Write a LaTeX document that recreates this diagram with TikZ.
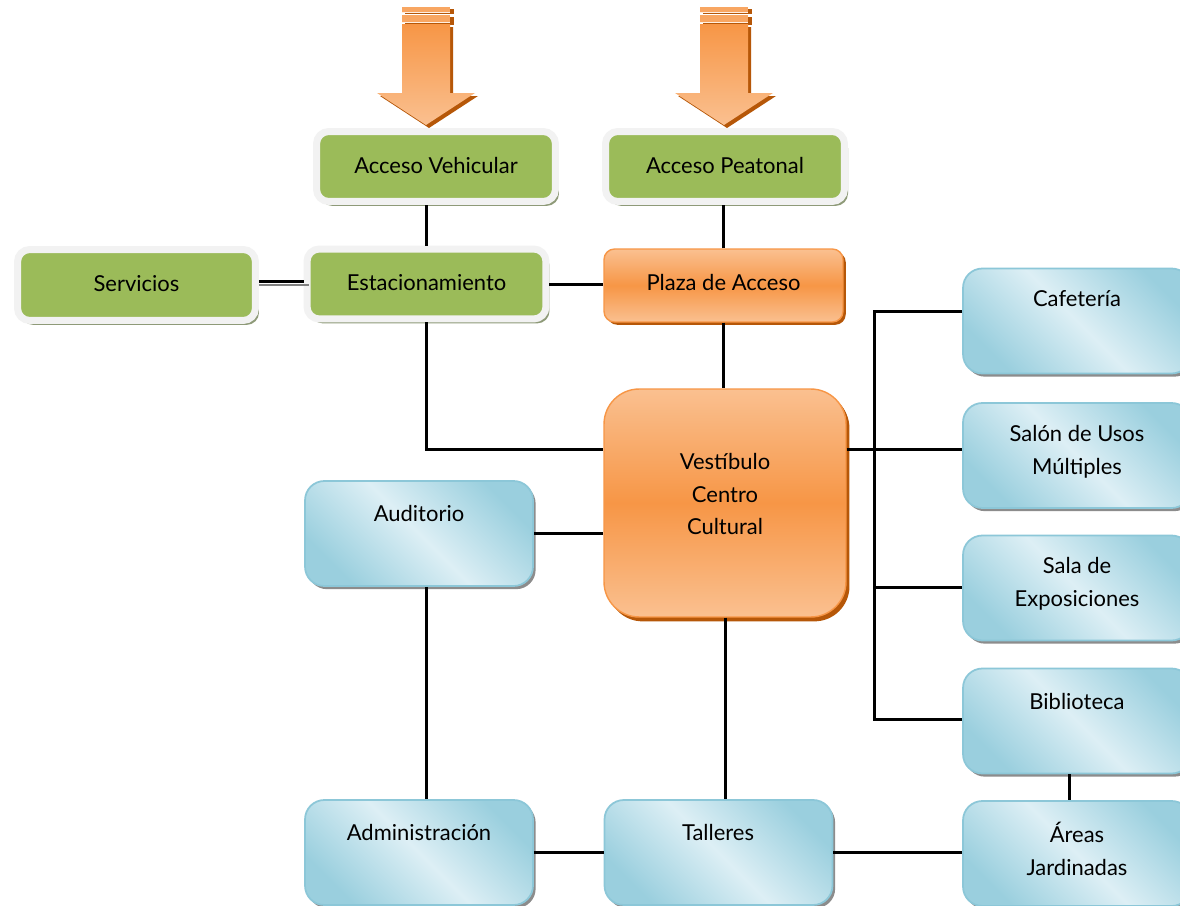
\documentclass[tikz,border=0pt]{standalone}
\usepackage{fontspec}
\setmainfont{Lato}
\usetikzlibrary{shadows,calc}
\definecolor{grn}{HTML}{9BBB59}
\definecolor{grnbd}{HTML}{F2F2F2}
\definecolor{grnsh}{HTML}{8E9A78}
\definecolor{orl}{HTML}{FAC090}
\definecolor{orm}{HTML}{F79646}
\definecolor{ord}{HTML}{B65708}
\definecolor{bll}{HTML}{DDEFF5}
\definecolor{blm}{HTML}{9ACFDE}
\definecolor{blbd}{HTML}{8CC7D8}
\definecolor{shgray}{HTML}{8C8C8C}
\newcommand\liftup[1]{\raisebox{1.8pt}{#1}}
\begin{document}
\begin{tikzpicture}[x=0.02cm,y=-0.02cm,
  every node/.style={font=\fontsize{12.5}{18.7}\selectfont},
  greenbox/.style={draw=grnbd, line width=0.14cm, fill=grn, rounded corners=7pt,
    minimum width=4.78cm, minimum height=1.4cm,
    drop shadow={shadow xshift=2pt, shadow yshift=-2.5pt, fill=grnsh, opacity=1}},
  orbox/.style={draw=orm, line width=0.8pt, top color=orl, bottom color=orl, middle color=orm,
    rounded corners=6pt,
    drop shadow={shadow xshift=1.6pt, shadow yshift=-1.6pt, fill=ord, opacity=1}},
  bluebox/.style={draw=blbd, line width=1pt, top color=blm, bottom color=blm, middle color=bll,
    shading angle=-45, rounded corners=11pt, minimum width=4.56cm, minimum height=2.1cm,
    drop shadow={shadow xshift=1.5pt, shadow yshift=-1.8pt, fill=shgray, opacity=1}},
  txt/.style={align=center, inner sep=0pt},
  conn/.style={line width=0.06cm, black},
  downarrow/.pic={
    \fill[ord] (-21,27) -- (27,27) -- (27,96) -- (52,96) -- (3,128) -- (-46,96) -- (-21,96) -- cycle;
    \fill[ord] (-21,9) rectangle (28,14);
    \fill[ord] (-21,17) rectangle (28,25);
    \shade[top color=orm, bottom color=orl] (-24,24) -- (24,24) -- (24,93) -- (49,93) -- (0,125) -- (-49,93) -- (-24,93) -- cycle;
    \fill[orm!85!white] (-24,7) rectangle (24,12);
    \fill[orm!85!white] (-24,15) rectangle (24,22);
    \draw[white!85!orm, line width=0.6pt] (-24,12.5) -- (24,12.5);
    \draw[white!85!orm, line width=0.6pt] (-24,22.5) -- (24,22.5);
  }]
\useasboundingbox (0,0) rectangle (1180,906);
\fill[white] (0,0) rectangle (1180,906);

% arrows
\pic at (426,0) {downarrow};
\pic at (724,0) {downarrow};

% green boxes
\node[greenbox] (av) at (436,166.5) {\liftup{Acceso Vehicular}};
\node[greenbox] (ap) at (725,166.5) {\liftup{Acceso Peatonal}};
\node[greenbox, minimum width=4.76cm, minimum height=1.42cm] (serv) at (136.5,285) {\liftup{Servicios}};
\node[greenbox] (est) at (426.5,284) {\liftup{Estacionamiento}};

% orange boxes
\node[orbox, minimum width=4.78cm, minimum height=1.46cm] (plaza) at (723.5,285.5) {\raisebox{3pt}{Plaza de Acceso}};
\node[orbox, rounded corners=20pt, minimum width=4.84cm, minimum height=4.56cm,
  drop shadow={shadow xshift=2pt, shadow yshift=-2.5pt, fill=ord, opacity=1}] (vest) at (725,503) {};
\node[txt] (vestt) at (725,494) {Vestíbulo\\Centro\\Cultural};

% blue boxes
\node[bluebox] (caf) at (1077,321) {};
\node[bluebox] (salon) at (1077,455.5) {};
\node[bluebox] (sala) at (1077,588) {};
\node[bluebox] (bib) at (1077,721) {};
\node[bluebox] (areas) at (1077,853.5) {};
\node[bluebox] (aud) at (419,533.5) {};
\node[bluebox] (adm) at (419,852.5) {};
\node[bluebox] (tall) at (718.5,852.5) {};

\node[txt] (caft) at (1077,299) {Cafetería};
\node[txt] (salont) at (1077,451.5) {Salón de Usos\\Múltiples};
\node[txt] (salat) at (1077,584) {Sala de\\Exposiciones};
\node[txt] (bibt) at (1077,701) {Biblioteca};
\node[txt] (areast) at (1077,849) {Áreas\\Jardinadas};
\node[txt] (audt) at (419,513) {Auditorio};
\node[txt] (admt) at (419,832) {Administración};
\node[txt] (tallt) at (718,832) {Talleres};

% coordinates
\coordinate (ya) at (0,449);
\coordinate (ys) at (0,281);
\coordinate (ys2) at (0,285);
\coordinate (xa) at (426,0);
\coordinate (xb) at (1069,0);
\coordinate (b1) at (874,311);
\coordinate (b2) at (874,587);
\coordinate (b3) at (874,719);

% connectors
\draw[conn] (est.north) -- (est.north |- av.south);
\draw[conn] (plaza.north) -- (plaza.north |- ap.south);
\draw[conn] (serv.east |- ys) -- (est.west |- ys);
\draw[gray, line width=0.04cm] (serv.east |- ys2) -- ([xshift=3pt]est.west |- ys2);
\draw[conn] (est.east) -- (est.east -| plaza.west);
\draw[conn] (plaza.south) -- (plaza.south |- vest.north);
\draw[conn] (est.south) |- (vest.west |- ya);
\draw[conn] (vest.east |- ya) -- (salon.west |- ya);
\draw[conn] (aud.east) -- (aud.east -| vest.west);
\draw[conn] (aud.south -| xa) -- (adm.north -| xa);
\draw[conn] (vest.south) -- (vest.south |- tall.north);
\draw[conn] (adm.east) -- (tall.west);
\draw[conn] (tall.east) -- (tall.east -| areas.west);
\draw[conn] (bib.south -| xb) -- (areas.north -| xb);
\draw[conn] (caf.west |- b1) -- (b1) -- (b3) -- (bib.west |- b3);
\draw[conn] (b2) -- (sala.west |- b2);
\end{tikzpicture}
\end{document}
